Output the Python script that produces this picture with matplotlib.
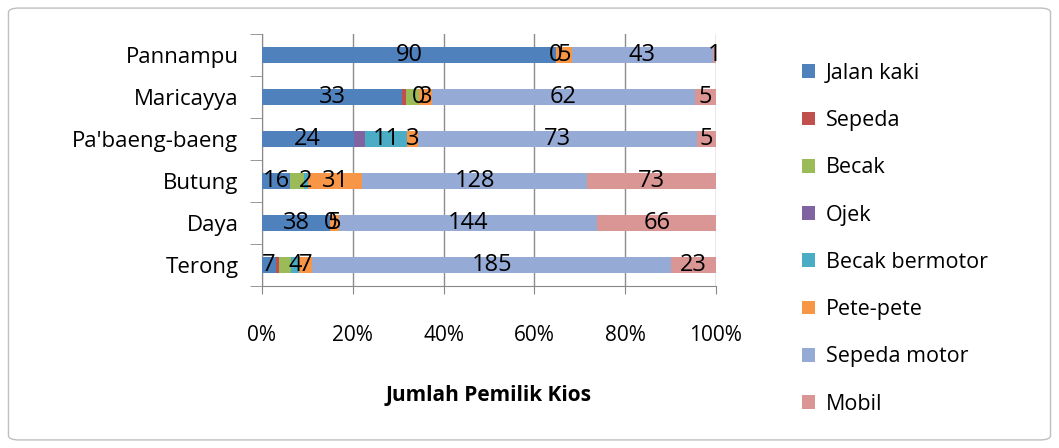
import matplotlib
matplotlib.use("Agg")
import matplotlib.pyplot as plt
from matplotlib.patches import FancyBboxPatch
import numpy as np

plt.rcParams['font.family'] = ['Open Sans', 'DejaVu Sans']

categories = ["Terong", "Daya", "Butung", "Pa'baeng-baeng", "Maricayya", "Pannampu"]
series_names = ["Jalan kaki", "Sepeda", "Becak", "Ojek", "Becak bermotor",
                "Pete-pete", "Sepeda motor", "Mobil"]
jalan_kaki     = [7, 38, 16, 24, 33, 90]
sepeda         = [2, 0, 0, 0, 1, 0]
becak          = [6, 0, 8, 0, 3, 0]
ojek           = [0, 0, 0, 3, 0, 0]
becak_bermotor = [4, 0, 2, 11, 0, 0]
pete_pete      = [7, 5, 31, 3, 3, 5]
sepeda_motor   = [185, 144, 128, 73, 62, 43]
mobil          = [23, 66, 73, 5, 5, 1]
series = [jalan_kaki, sepeda, becak, ojek, becak_bermotor, pete_pete, sepeda_motor, mobil]
labelled = [True, False, False, False, True, True, True, True]
colors = ["#4F81BD", "#C0504D", "#9BBB59", "#8064A2", "#4BACC6",
          "#F79646", "#95ABD6", "#DA9694"]
xticks = [0, 20, 40, 60, 80, 100]

data = np.array(series, dtype=float)
totals = data.sum(axis=0)
pct = data / totals * 100

fig = plt.figure(figsize=(10.59, 4.48), dpi=100)
ax = fig.add_axes([0.2474, 0.3616, 0.676 - 0.2474, 0.924 - 0.3616])

y = np.arange(len(categories))
left = np.zeros(len(categories))
for name, vals, p, col, lab in zip(series_names, series, pct, colors, labelled):
    bars = ax.barh(y, p, left=left, height=0.38, color=col, label=name, zorder=3)
    if lab:
        ax.bar_label(bars, labels=[str(v) for v in vals], label_type='center',
                     fontsize=17, color='black', zorder=4)
    left = left + p

ax.set_xlim(0, 100)
ax.set_ylim(-0.5, len(categories) - 0.5)
ax.set_yticks(y)
ax.set_yticklabels(categories, fontsize=16)
ax.set_xticks(xticks)
ax.set_xticklabels([f"{t}%" for t in xticks], fontsize=15)
ax.set_yticks(np.arange(-0.5, len(categories), 1), minor=True)
ax.tick_params(axis='y', which='major', length=0, pad=17)
ax.tick_params(axis='y', which='minor', length=9, color='#888888', direction='out')
ax.tick_params(axis='x', length=6, color='#888888', direction='out', pad=22)
ax.grid(axis='x', color='#8c8c8c', linewidth=1, zorder=0)
for s in ['top', 'right']:
    ax.spines[s].set_visible(False)
ax.spines['left'].set_color('#888888')
ax.spines['bottom'].set_color('#888888')
ax.set_xlabel("Jumlah Pemilik Kios", fontsize=15, fontweight='bold', labelpad=28)

handles, labels_ = ax.get_legend_handles_labels()
fig.legend(handles, labels_, loc='upper left', bbox_to_anchor=(0.739, 0.903),
           frameon=False, fontsize=15.5, handlelength=0.6, handleheight=0.6,
           handletextpad=0.5, labelspacing=1.22)

border = FancyBboxPatch((0.008, 0.018), 0.984, 0.964, boxstyle="round,pad=0,rounding_size=0.01",
                        transform=fig.transFigure, fill=False, edgecolor='#bfbfbf', linewidth=1)
fig.patches.append(border)

fig.savefig("out.png", dpi=100)
